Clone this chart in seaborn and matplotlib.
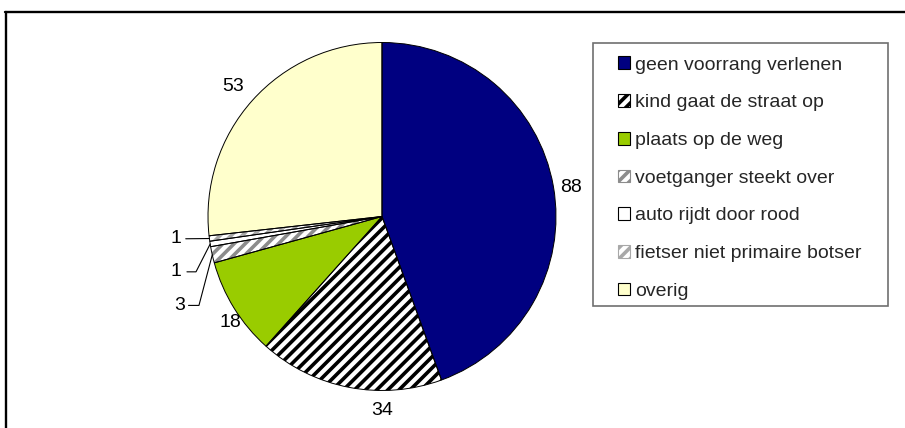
import matplotlib
matplotlib.use("Agg")
import matplotlib.pyplot as plt
import matplotlib.patches as mpatches
from matplotlib.lines import Line2D
import numpy as np
import seaborn as sns

# --- data -------------------------------------------------------------
categories = [
    "geen voorrang verlenen",
    "kind gaat de straat op",
    "plaats op de weg",
    "voetganger steekt over",
    "auto rijdt door rood",
    "fietser niet primaire botser",
    "overig",
]
counts = [88, 34, 18, 3, 1, 1, 53]

# --- styling ----------------------------------------------------------
sns.set_theme(style="white")
plt.rcParams["font.family"] = ["Liberation Sans", "DejaVu Sans"]
plt.rcParams["hatch.linewidth"] = 2.6

face_colors = ["#000080", "white", "#99CC00", "white", "white", "white", "#FFFFCC"]
hatch_colors = ["#000080", "black", "#99CC00", "#8C8C8C", "white", "#A8A8A8", "#FFFFCC"]
hatches = [None, "///", None, "///", None, "///", None]
FS = 14

# label placement, in units of the pie radius (x, y)
label_pos = {
    "geen voorrang verlenen": (1.086, 0.167),
    "kind gaat de straat op": (0.0, -1.115),
    "plaats op de weg": (-0.874, -0.609),
    "voetganger steekt over": (-1.161, -0.511),
    "auto rijdt door rood": (-1.184, -0.318),
    "fietser niet primaire botser": (-1.184, -0.128),
    "overig": (-0.856, 0.747),
}
# leader lines: (start x, elbow x) for the thin slices
leaders = {
    "voetganger steekt over": (-1.112, -1.052),
    "auto rijdt door rood": (-1.121, -1.069),
    "fietser niet primaire botser": (-1.128, -1.128),
}

W, H = 905, 428
fig = plt.figure(figsize=(W / 100, H / 100), dpi=100)
fig.patch.set_facecolor("white")

cx, cy, r = 382, 216.5, 174
ax = fig.add_axes([(cx - r) / W, (H - cy - r) / H, 2 * r / W, 2 * r / H])

wedges, _ = ax.pie(counts, colors=face_colors, startangle=90, counterclock=False,
                   radius=1, wedgeprops=dict(linewidth=0))
for w, hc, h in zip(wedges, hatch_colors, hatches):
    w.set_edgecolor(hc)
    w.set_linewidth(0)
    if h:
        w.set_hatch(h)

# outline of every slice on top of the fills
ax.pie(counts, colors=["none"] * len(counts), startangle=90, counterclock=False,
       radius=1, wedgeprops=dict(linewidth=0.7, edgecolor="black", fill=False))

ax.set_xlim(-1, 1)
ax.set_ylim(-1, 1)
ax.axis("off")

for cat, val, w in zip(categories, counts, wedges):
    x, y = label_pos[cat]
    ax.text(x, y, str(val), ha="center", va="center", fontsize=FS, color="black",
            clip_on=False)
    if cat in leaders:
        mid = np.deg2rad((w.theta1 + w.theta2) / 2)
        ex, ey = np.cos(mid), np.sin(mid)
        sx, elx = leaders[cat]
        ax.plot([sx, elx, ex], [y, y, ey], color="black", lw=0.8, clip_on=False)

# legend
handles = []
for fc, hc, h in zip(face_colors, hatch_colors, hatches):
    handles.append(mpatches.Patch(facecolor=fc, edgecolor=hc if h else "black",
                                  hatch=h, linewidth=0.8))
fig.legend(handles, categories, loc="upper left",
           bbox_to_anchor=(618 / W, 1 - 56.5 / H), frameon=False, fontsize=FS,
           handlelength=0.64, handleheight=0.64, handletextpad=0.22,
           labelspacing=1.05, borderpad=0, borderaxespad=0)
fig.patches.append(mpatches.Rectangle((593 / W, 1 - 306 / H), 295 / W, 263 / H,
                                      transform=fig.transFigure, fill=False,
                                      edgecolor="#707070", linewidth=1.2))

# chart area border
fig.lines.append(Line2D([4.5 / W, 1.0], [1 - 12 / H, 1 - 12 / H],
                        transform=fig.transFigure, color="black", lw=1.7))
fig.lines.append(Line2D([5.5 / W, 5.5 / W], [1 - 12 / H, 0],
                        transform=fig.transFigure, color="black", lw=1.7))

fig.savefig("out.png", dpi=100, facecolor="white")
